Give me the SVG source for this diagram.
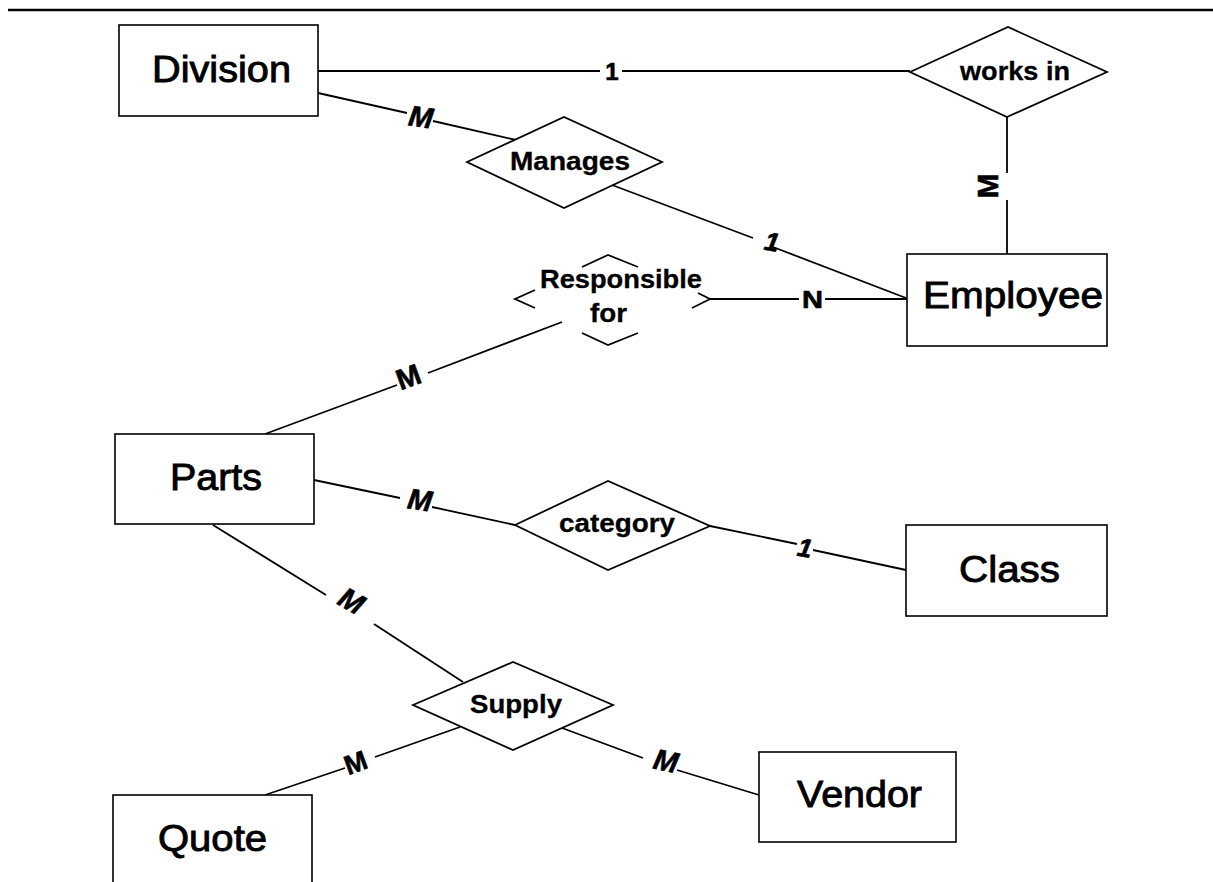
<svg xmlns="http://www.w3.org/2000/svg" width="1213" height="882" viewBox="0 0 1213 882">
  <style>
    .entity rect { fill: #fff; stroke: #000; stroke-width: 1.6; }
    .entity text { font-family: "Liberation Sans", Arial, Helvetica, sans-serif; font-size: 37px; fill: #000; stroke: #000; stroke-width: 0.9; }
    .rel polygon, .rel polyline { fill: #fff; stroke: #000; stroke-width: 1.8; stroke-linejoin: miter; }
    .rel polyline { fill: none; }
    .rel text { font-family: "Liberation Sans", Arial, Helvetica, sans-serif; font-size: 25px; font-weight: bold; fill: #000; stroke: #000; stroke-width: 0.3; }
    .conn line { stroke: #000; stroke-width: 1.8; }
    .card { font-family: "Liberation Sans", Arial, Helvetica, sans-serif; font-weight: bold; fill: #000; stroke: #000; stroke-width: 0.6; }
    .card.it { font-style: italic; }
  </style>

  <rect width="1213" height="882" fill="#fff"/>

  <!-- top rule -->
  <line x1="8" y1="10" x2="1213" y2="10" stroke="#000" stroke-width="2.5"/>

  <!-- connectors (split where a cardinality sits on the line) -->
  <g id="connectors" class="conn">
    <!-- Division - works in -->
    <line x1="318" y1="71" x2="600" y2="71"/>
    <line x1="622" y1="71" x2="910" y2="71"/>
    <!-- Division - Manages -->
    <line x1="318" y1="93" x2="407" y2="113"/>
    <line x1="433" y1="121" x2="516" y2="140"/>
    <!-- Manages - Employee -->
    <line x1="612" y1="185" x2="753" y2="238"/>
    <line x1="773" y1="247" x2="906" y2="298"/>
    <!-- works in - Employee -->
    <line x1="1007" y1="117" x2="1007" y2="173"/>
    <line x1="1007" y1="200" x2="1007" y2="254"/>
    <!-- Responsible for - Employee -->
    <line x1="710" y1="299" x2="799" y2="299"/>
    <line x1="825" y1="299" x2="907" y2="299"/>
    <!-- Parts - Responsible for -->
    <line x1="265" y1="434" x2="397" y2="385"/>
    <line x1="428" y1="373" x2="562" y2="322"/>
    <!-- Parts - category -->
    <line x1="314" y1="480" x2="400" y2="498"/>
    <line x1="432" y1="507" x2="515" y2="525"/>
    <!-- category - Class -->
    <line x1="710" y1="526" x2="797" y2="544"/>
    <line x1="813" y1="550" x2="906" y2="570"/>
    <!-- Parts - Supply -->
    <line x1="213" y1="525" x2="326" y2="595"/>
    <line x1="374" y1="624" x2="463" y2="682"/>
    <!-- Supply - Quote -->
    <line x1="460" y1="727" x2="375" y2="757"/>
    <line x1="345" y1="768" x2="265" y2="795"/>
    <!-- Supply - Vendor -->
    <line x1="562" y1="728" x2="643" y2="758"/>
    <line x1="677" y1="770" x2="759" y2="795"/>
  </g>

  <!-- cardinalities -->
  <g id="cardinalities">
    <text class="card" x="612" y="80" font-size="24" text-anchor="middle">1</text>
    <text class="card it" x="421" y="127" font-size="29" text-anchor="middle" transform="rotate(8 421 116)">M</text>
    <text class="card it" x="772" y="251" font-size="26" text-anchor="middle" transform="rotate(10 772 241)">1</text>
    <text class="card" x="802" y="308" font-size="24" textLength="21" lengthAdjust="spacingAndGlyphs">N</text>
    <text class="card" x="988" y="196" font-size="30" text-anchor="middle" transform="rotate(-90 988 186)">M</text>
    <text class="card" x="408" y="387" font-size="29" text-anchor="middle" transform="rotate(-20 408 376)">M</text>
    <text class="card it" x="420" y="510" font-size="29" text-anchor="middle" transform="rotate(8 420 499)">M</text>
    <text class="card it" x="805" y="557" font-size="26" text-anchor="middle" transform="rotate(10 805 547)">1</text>
    <text class="card it" x="352" y="611" font-size="29" text-anchor="middle" transform="rotate(30 352 600)">M</text>
    <text class="card" x="355" y="772" font-size="27" text-anchor="middle" transform="rotate(-20 355 761)">M</text>
    <text class="card it" x="666" y="771" font-size="29" text-anchor="middle" transform="rotate(12 666 760)">M</text>
  </g>

  <!-- entities -->
  <g id="division" class="entity">
    <rect x="119" y="25" width="199" height="91"/>
    <text x="152" y="82" textLength="139" lengthAdjust="spacingAndGlyphs">Division</text>
  </g>
  <g id="employee" class="entity">
    <rect x="907" y="254" width="200" height="92"/>
    <text x="923" y="308" textLength="180" lengthAdjust="spacingAndGlyphs">Employee</text>
  </g>
  <g id="parts" class="entity">
    <rect x="115" y="434" width="199" height="90"/>
    <text x="170" y="490" textLength="92" lengthAdjust="spacingAndGlyphs">Parts</text>
  </g>
  <g id="class" class="entity">
    <rect x="906" y="525" width="201" height="91"/>
    <text x="959" y="582" textLength="101" lengthAdjust="spacingAndGlyphs">Class</text>
  </g>
  <g id="vendor" class="entity">
    <rect x="759" y="752" width="197" height="90"/>
    <text x="797" y="807" textLength="125" lengthAdjust="spacingAndGlyphs">Vendor</text>
  </g>
  <g id="quote" class="entity">
    <rect x="113" y="795" width="199" height="110"/>
    <text x="158" y="851" textLength="109" lengthAdjust="spacingAndGlyphs">Quote</text>
  </g>

  <!-- relationships -->
  <g id="works-in" class="rel">
    <polygon points="910,72 1008,27 1107,72 1007,117"/>
    <text x="960" y="80" textLength="110" lengthAdjust="spacingAndGlyphs">works in</text>
  </g>
  <g id="manages" class="rel">
    <polygon points="467,162 564,117 662,162 564,208"/>
    <text x="510" y="170" textLength="120" lengthAdjust="spacingAndGlyphs">Manages</text>
  </g>
  <g id="responsible-for" class="rel">
    <polyline points="535,290 515,299 535,308"/>
    <polyline points="582,267 608,255 638,267"/>
    <polyline points="582,333 608,345 638,333"/>
    <polyline points="698,293 710,299 692,308"/>
    <text x="540" y="288" textLength="162" lengthAdjust="spacingAndGlyphs">Responsible</text>
    <text x="590" y="322" textLength="37" lengthAdjust="spacingAndGlyphs">for</text>
  </g>
  <g id="category" class="rel">
    <polygon points="515,525 608,481 710,526 608,570"/>
    <text x="559" y="532" textLength="116" lengthAdjust="spacingAndGlyphs">category</text>
  </g>
  <g id="supply" class="rel">
    <polygon points="413,705 513,662 613,705 513,750"/>
    <text x="470" y="713" textLength="92" lengthAdjust="spacingAndGlyphs">Supply</text>
  </g>
</svg>
